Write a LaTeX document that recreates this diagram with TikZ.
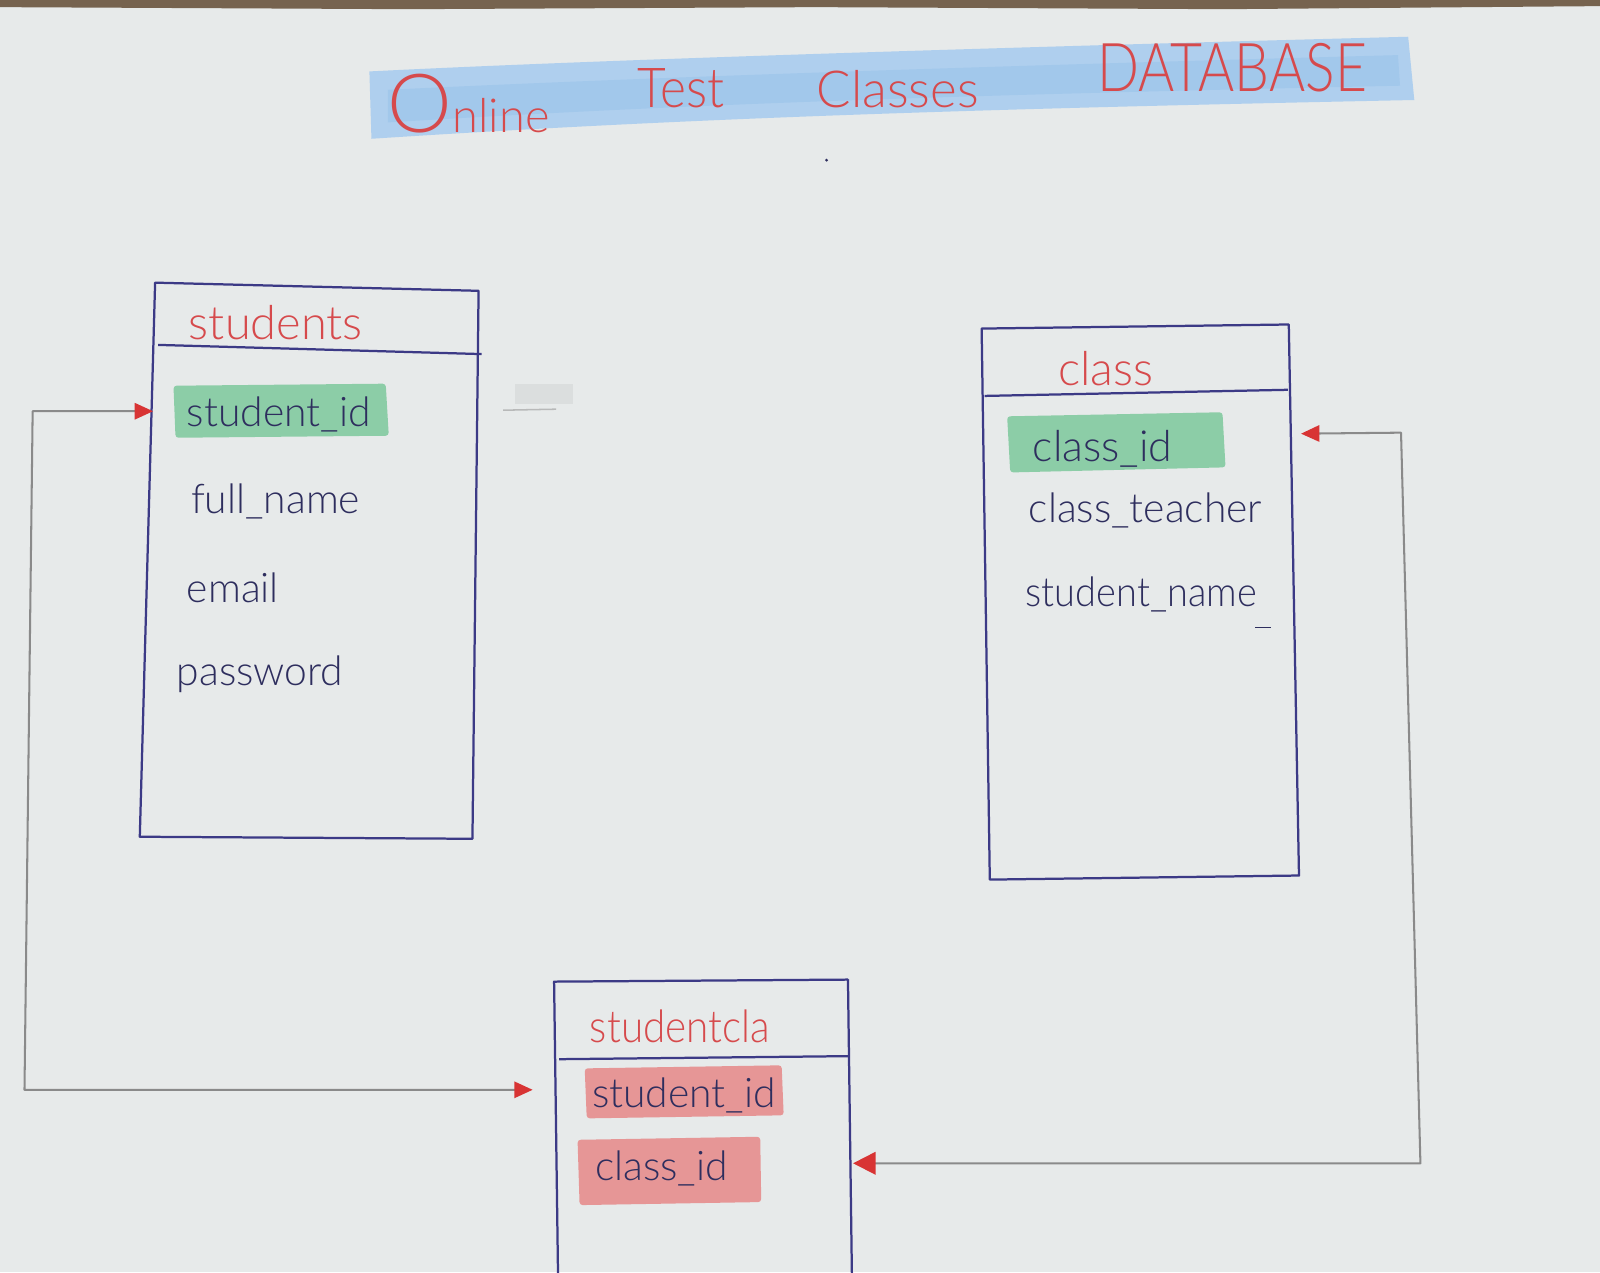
\documentclass[tikz,border=0pt]{standalone}
\usepackage{fontspec}
\setmainfont{Lato}[UprightFont=* Light]
\usetikzlibrary{arrows.meta}
\definecolor{paper}{HTML}{E7EAEA}
\definecolor{carpet}{HTML}{76634F}
\definecolor{ink}{HTML}{3C3A86}
\definecolor{navytext}{HTML}{2E2E5E}
\definecolor{redtext}{HTML}{D64A4C}
\definecolor{pencil}{HTML}{8A8A8A}
\definecolor{tipred}{HTML}{D83434}
\definecolor{hlgreen}{HTML}{7DC89C}
\definecolor{hlred}{HTML}{E68888}
\definecolor{band}{HTML}{AFCFEE}
\definecolor{banddark}{HTML}{8ABBE8}
\tikzset{
  tablebox/.style={draw=ink, line width=2.2pt, line join=round},
  rule/.style={draw=ink, line width=2.2pt},
  field/.style={anchor=base west, inner sep=0pt, text=navytext, font=\fontsize{40}{44}\selectfont},
  tabletitle/.style={anchor=base west, inner sep=0pt, text=redtext, font=\fontsize{46}{50}\selectfont},
  headword/.style={anchor=base west, inner sep=0pt, text=redtext},
  conn/.style={draw=pencil, line width=2pt, line join=round},
  redtip/.tip={Triangle[color=tipred, length=18pt, width=16pt]},
  greenmark/.style={fill=hlgreen, opacity=0.85, rounded corners=3pt},
  redmark/.style={fill=hlred, opacity=0.85, rounded corners=3pt}
}
\begin{document}
\begin{tikzpicture}[x=1pt, y=-1pt]
\useasboundingbox (0,0) rectangle (1568,1247);
% paper and the strip of floor along the top
\fill[paper] (0,0) rectangle (1568,1247);
\fill[carpet] (0,0) -- (1568,0) -- (1568,6) -- (1200,9) -- (800,7) -- (400,9) -- (0,7) -- cycle;

% crayon band behind the heading
\fill[band] (362,70) .. controls (600,58) and (1000,46) .. (1380,36)
  -- (1386,98) .. controls (1000,106) and (700,114) .. (364,136) -- cycle;
\fill[banddark, opacity=0.35] (380,88) .. controls (650,75) and (1000,64) .. (1370,54)
  -- (1372,84) .. controls (1000,92) and (700,100) .. (380,120) -- cycle;
\node[headword] (hOnline) at (380,130) {{\fontsize{80}{80}\selectfont O}{\fontsize{46}{46}\selectfont nline}};
\node[headword, font=\fontsize{54}{54}\selectfont, xscale=0.9] (hTest) at (625,105) {Test};
\node[headword, font=\fontsize{50}{50}\selectfont] (hClasses) at (800,105) {Classes};
\node[headword, font=\fontsize{66}{66}\selectfont, xscale=0.82] (hDatabase) at (1075,90) {DATABASE};
\fill[navytext] (810,157) circle (1.5);

% highlights under key columns
\fill[greenmark] (170,378) -- (378,376) -- (381,427) -- (172,429) -- cycle;
\fill[greenmark] (987,408) -- (1198,404) -- (1201,458) -- (990,463) -- cycle;
\fill[redmark] (573,1047) -- (766,1044) -- (768,1093) -- (575,1096) -- cycle;
\fill[redmark] (566,1117) -- (745,1114) -- (746,1178) -- (568,1181) -- cycle;

% table: students
\coordinate (stuTL) at (152,277);
\coordinate (stuTR) at (469,285);
\coordinate (stuBR) at (463,822);
\coordinate (stuBL) at (137,820);
\draw[tablebox] (stuTL) -- (stuTR) -- (stuBR) -- (stuBL) -- cycle;
\draw[rule] (155,338) -- (472,347);
\node[tabletitle] (stuTitle) at (185,333) {students};
\node[field] (stuId) at (183,418) {student\_id};
\node[field] (stuName) at (187,503) {full\_name};
\node[field] (stuMail) at (183,590) {email};
\node[field] (stuPass) at (173,672) {password};

% table: class
\coordinate (clsTL) at (962,322);
\coordinate (clsTR) at (1263,318);
\coordinate (clsBR) at (1273,858);
\coordinate (clsBL) at (970,862);
\draw[tablebox] (clsTL) -- (clsTR) -- (clsBR) -- (clsBL) -- cycle;
\draw[rule] (965,388) -- (1262,382);
\node[tabletitle] (clsTitle) at (1037,378) {class};
\node[field, font=\fontsize{42}{46}\selectfont] (clsId) at (1012,452) {class\_id};
\node[field] (clsTeacher) at (1008,512) {class\_teacher};
\node[field, xscale=0.93] (clsStudent) at (1005,594) {student\_name};
\draw[navytext, line width=1.5pt] (1230,615) -- (1246,615);

% table: studentcla (runs off the bottom of the sheet)
\coordinate (scTL) at (543,962);
\coordinate (scTR) at (831,960);
\coordinate (scBR) at (835,1260);
\coordinate (scBL) at (547,1260);
\draw[tablebox] (scBL) -- (scTL) -- (scTR) -- (scBR);
\draw[rule] (548,1038) -- (832,1035);
\node[tabletitle, font=\fontsize{44}{48}\selectfont, xscale=0.9] (scTitle) at (578,1022) {studentcla};
\node[field] (scStu) at (580,1085) {student\_id};
\node[field] (scCls) at (583,1157) {class\_id};

% pencil smudge beside students
\draw[pencil, opacity=0.5, line width=1.5pt] (493,402) -- (545,401);
\fill[pencil, opacity=0.12] (505,376) rectangle (562,396);

% relationships
\coordinate (stuIn) at (150,403);
\coordinate (scInL) at (522,1068);
\coordinate (clsIn) at (1275,425);
\coordinate (scInR) at (836,1140);
\coordinate (bendA) at (32,403);
\coordinate (bendB) at (24,1068);
\coordinate (bendC) at (1373,424);
\coordinate (bendD) at (1392,1140);
\draw[conn, {redtip}-{redtip}] (stuIn) -- (bendA) -- (bendB) -- (scInL);
\draw[conn, {redtip}-{Triangle[color=tipred, length=22pt, width=22pt]}] (clsIn) -- (bendC) -- (bendD) -- (scInR);
\end{tikzpicture}
\end{document}
